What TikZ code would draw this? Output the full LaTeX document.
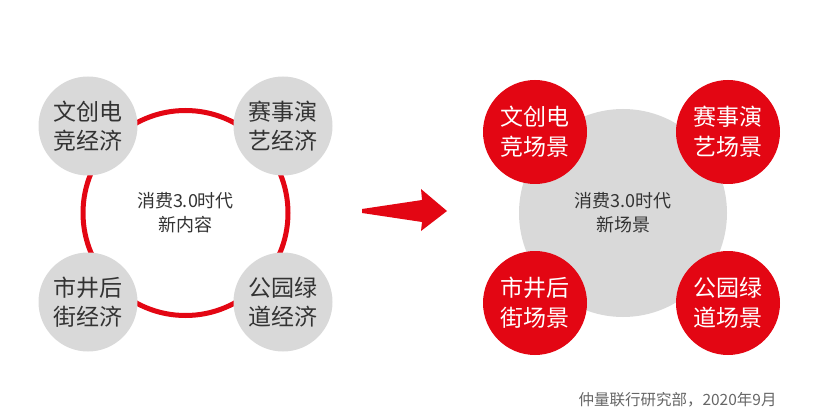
\documentclass[tikz,border=0pt]{standalone}
\usepackage{fontspec}
\setmainfont{Noto Sans CJK SC}
\usepackage{xcolor}
\usepackage{tikz}

\definecolor{jllred}{HTML}{E30613}
\definecolor{jllgray}{HTML}{D9D9D9}
\definecolor{jlltext}{HTML}{333333}

\begin{document}
\begin{tikzpicture}[x=1pt, y=-1pt,
    graybub/.style={circle, fill=jllgray, minimum size=99pt, inner sep=0pt, align=center,
        text=jlltext, font=\fontsize{23}{29}\selectfont},
    redbub/.style={circle, fill=jllred, minimum size=104pt, inner sep=0pt, align=center,
        text=white, font=\fontsize{23}{30}\selectfont},
    midtext/.style={align=center, text=jlltext, font=\fontsize{18}{24}\selectfont}]
    \useasboundingbox (0,0) rectangle (833,417);

    % Left: red ring with four grey bubbles
    \node[circle, draw=jllred, line width=5pt, minimum size=205pt] (ring) at (185.5,213) {};
    \node[midtext] (oldcore) at (ring) {消费3.0时代\\新内容};

    \node[graybub] (oldtl) at (88,126) {文创电\\竞经济};
    \node[graybub] (oldtr) at (283,126) {赛事演\\艺经济};
    \node[graybub] (oldbl) at (88,302) {市井后\\街经济};
    \node[graybub] (oldbr) at (283,302) {公园绿\\道经济};

    % Arrow
    \fill[jllred] (362,209) -- (422,200) -- (421,189) -- (447,211) -- (421,231) -- (422,222) -- (362,213) -- cycle;

    % Right: grey core with four red bubbles
    \node[circle, fill=jllgray, minimum size=208pt, inner sep=0pt] (newcore) at (623,213) {};
    \node[midtext] (newcoretext) at (newcore) {消费3.0时代\\新场景};

    \node[redbub] (newtl) at (535,132) {文创电\\竞场景};
    \node[redbub] (newtr) at (728,132) {赛事演\\艺场景};
    \node[redbub] (newbl) at (535,303) {市井后\\街场景};
    \node[redbub] (newbr) at (728,303) {公园绿\\道场景};

    % Source
    \node[anchor=west, text=black!60, font=\fontsize{15.5}{18}\selectfont] (source) at (575,400) {仲量联行研究部，2020年9月};
\end{tikzpicture}
\end{document}
